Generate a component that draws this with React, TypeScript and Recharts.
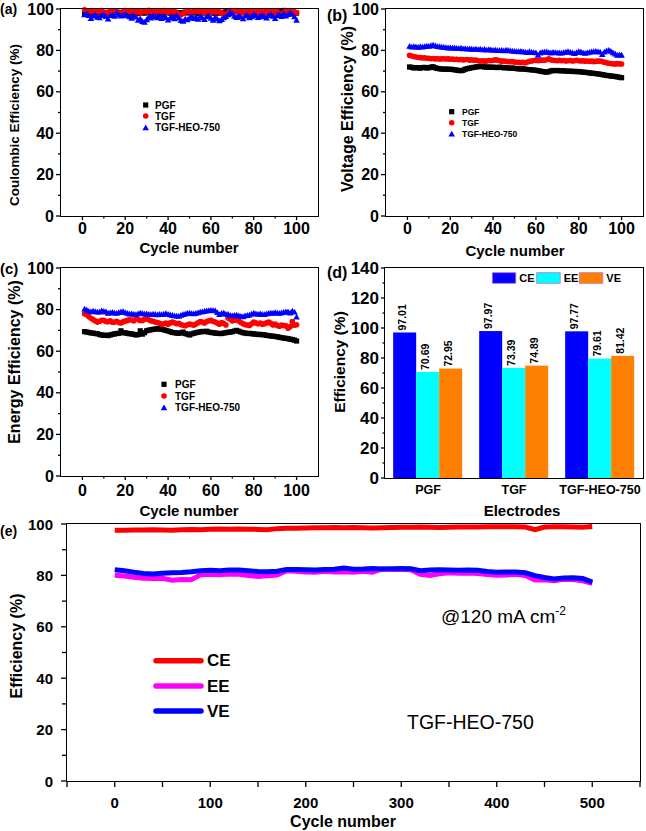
import React from "react";
import { ScatterChart, Scatter, LineChart, Line, BarChart, Bar, XAxis, YAxis } from "recharts";

const FONT = "'Liberation Sans', Arial, Helvetica, sans-serif";

// cycle numbers for panels (a)-(c)
const cycles = Array.from({ length: 100 }, (_, i) => i + 1);

// (a) coulombic efficiency, %
const pgfCE = [
  97.6, 98.2, 98.0, 98.4, 97.9, 98.3, 98.1, 98.5, 97.8, 98.2, 98.0, 98.4, 98.1, 97.9, 98.3, 98.6, 98.0, 98.2, 98.4, 97.9,
  98.1, 98.3, 98.0, 98.5, 98.2, 97.8, 98.1, 98.4, 98.0, 98.3, 98.5, 98.1, 97.9, 98.2, 98.4, 98.0, 98.3, 98.1, 98.6, 98.2,
  98.0, 98.4, 98.1, 97.8, 98.3, 98.0, 98.2, 98.5, 98.1, 98.3, 98.0, 98.4, 98.2, 97.9, 98.3, 98.1, 98.5, 98.0, 98.2, 98.4,
  98.1, 97.9, 98.3, 98.0, 98.4, 98.2, 98.6, 98.9, 99.0, 98.7, 98.9, 99.1, 98.8, 98.6, 98.4, 98.2, 98.5, 98.1, 98.3, 98.0,
  98.4, 98.2, 98.5, 98.1, 98.3, 98.6, 98.2, 98.4, 98.0, 98.5, 98.3, 98.8, 99.1, 99.3, 98.9, 98.6, 98.4, 98.7, 98.2, 98.0,
];
const tgfCE = [
  99.6, 99.0, 98.6, 99.2, 98.8, 98.4, 99.0, 98.7, 99.3, 98.5, 98.2, 97.8, 98.9, 98.6, 99.1, 98.4, 98.0, 97.6, 98.8, 99.2,
  99.0, 98.7, 99.3, 98.9, 98.5, 99.0, 98.2, 98.7, 99.1, 98.6, 99.4, 98.9, 98.3, 98.8, 99.0, 98.5, 98.9, 99.2, 98.7, 98.4,
  98.9, 98.6, 99.0, 98.3, 97.6, 97.2, 97.8, 98.5, 99.0, 98.7, 98.4, 99.1, 98.8, 99.3, 98.6, 98.9, 98.2, 98.8, 99.1, 98.5,
  98.9, 98.4, 99.0, 98.7, 98.2, 97.4, 97.0, 98.3, 99.2, 98.8, 98.6, 99.0, 98.4, 98.9, 98.2, 98.7, 99.1, 98.5, 98.9, 98.3,
  98.8, 98.5, 99.0, 98.6, 98.2, 98.9, 98.4, 99.0, 98.7, 98.3, 98.8, 97.6, 96.5, 98.4, 98.9, 98.6, 97.8, 99.0, 98.7, 98.2,
];
const heoCE = [
  97.2, 97.8, 96.8, 95.4, 96.6, 97.2, 96.0, 95.8, 96.9, 97.3, 96.4, 95.2, 96.8, 97.0, 96.5, 98.3, 97.1, 96.6, 96.9, 97.4,
  96.7, 96.2, 95.5, 96.8, 96.1, 94.6, 95.3, 94.0, 93.6, 94.8, 96.2, 95.6, 96.9, 96.3, 95.8, 96.6, 95.4, 96.7, 95.9, 94.7,
  95.6, 96.4, 95.3, 96.8, 95.7, 94.5, 94.1, 95.2, 94.8, 95.6, 96.3, 95.4, 96.1, 95.0, 96.5, 95.8, 94.9, 96.2, 96.7, 95.5,
  94.6, 96.0, 95.2, 94.3, 94.9, 95.8, 96.4, 97.2, 98.4, 97.6, 96.5, 95.9, 96.8, 96.1, 95.3, 96.6, 97.0, 95.8, 96.3, 97.4,
  96.7, 95.9, 96.4, 97.1, 96.2, 95.6, 96.8, 97.3, 96.5, 95.4, 96.9, 97.2, 96.4, 97.8, 96.6, 97.3, 98.1, 97.5, 96.2, 94.6,
];

// (b) voltage efficiency, %
const pgfVE = [
  72.0, 71.8, 71.5, 71.7, 71.6, 71.4, 71.7, 71.8, 71.5, 71.6, 71.9, 72.1, 71.6, 71.3, 71.1, 71.0, 70.9, 71.0, 70.8, 70.9,
  70.8, 70.6, 70.5, 70.3, 70.2, 70.4, 70.9, 71.2, 71.4, 71.6, 71.8, 72.0, 72.1, 72.3, 72.2, 72.0, 71.9, 72.0, 71.8, 71.9,
  71.8, 71.7, 71.9, 71.8, 71.6, 71.7, 71.5, 71.4, 71.5, 71.3, 71.2, 71.1, 71.0, 71.1, 70.9, 70.8, 70.7, 70.6, 70.5, 70.4,
  70.2, 70.0, 69.8, 69.6, 69.5, 69.7, 70.1, 70.3, 70.2, 70.3, 70.2, 70.1, 70.2, 70.0, 69.9, 70.0, 69.8, 69.9, 69.7, 69.8,
  69.6, 69.5, 69.4, 69.3, 69.1, 69.0, 68.9, 68.8, 68.6, 68.5, 68.3, 68.1, 67.9, 67.8, 67.6, 67.5, 67.4, 67.2, 67.0, 66.8,
];
const tgfVE = [
  77.6, 77.3, 77.0, 76.8, 76.6, 76.5, 76.3, 76.4, 76.2, 76.2, 76.0, 76.1, 75.9, 76.0, 75.8, 75.9, 76.0, 75.8, 75.9, 75.7,
  75.8, 75.6, 75.7, 75.5, 75.6, 75.4, 75.5, 75.6, 75.3, 75.4, 75.2, 75.3, 75.0, 74.9, 75.0, 74.8, 74.9, 75.1, 75.0, 75.2,
  75.4, 75.3, 75.0, 74.8, 74.9, 74.7, 74.6, 74.5, 74.6, 74.4, 74.3, 74.2, 74.1, 74.2, 74.0, 74.4, 74.7, 74.9, 75.1, 75.2,
  75.0, 75.1, 75.3, 75.2, 75.5, 75.9, 75.4, 75.2, 75.1, 75.0, 75.2, 75.0, 75.1, 74.9, 75.0, 75.1, 74.9, 75.0, 75.2, 75.0,
  74.9, 75.0, 74.8, 74.9, 74.7, 74.8, 74.6, 74.7, 74.8, 74.9, 74.6, 74.3, 74.0, 73.8, 73.7, 73.5, 73.4, 73.6, 73.5, 73.4,
];
const heoVE = [
  82.0, 81.6, 81.9, 81.7, 81.5, 81.8, 81.6, 81.9, 82.1, 82.0, 82.3, 82.6, 82.2, 81.9, 81.8, 81.6, 81.5, 81.4, 81.2, 81.3,
  81.1, 81.2, 81.0, 80.9, 81.1, 80.8, 80.9, 80.7, 80.8, 80.6, 80.5, 80.7, 80.4, 80.6, 80.3, 80.5, 80.2, 80.4, 80.3, 80.1,
  80.2, 80.0, 79.9, 80.1, 79.8, 80.2, 80.0, 79.8, 79.7, 79.6, 79.5, 79.4, 79.6, 79.3, 79.2, 79.0, 79.4, 79.1, 79.0, 78.9,
  77.6, 78.8, 79.1, 79.2, 79.3, 79.0, 78.8, 79.1, 79.0, 78.9, 78.8, 78.7, 79.0, 79.2, 79.4, 79.1, 78.9, 78.5, 79.0, 79.4,
  79.2, 78.9, 78.6, 78.9, 79.1, 79.3, 79.4, 79.6, 79.3, 79.2, 78.0, 79.2, 79.8, 80.1, 79.6, 78.9, 78.3, 77.6, 77.9, 77.7,
];

// (c) energy efficiency, %
const pgfEE = [
  69.4, 69.2, 69.0, 68.8, 68.7, 68.5, 68.4, 68.0, 67.8, 67.6, 67.7, 67.5, 67.8, 68.1, 68.3, 68.5, 68.6, 69.8, 68.9, 68.8,
  68.6, 68.4, 68.3, 68.1, 67.8, 68.0, 69.8, 68.2, 68.9, 69.8, 70.1, 70.3, 70.5, 70.6, 70.8, 70.7, 70.5, 70.3, 70.0, 69.7,
  69.4, 69.0, 68.9, 68.7, 68.6, 68.8, 69.2, 68.5, 68.2, 67.8, 68.3, 68.6, 68.9, 69.1, 69.3, 69.5, 69.4, 69.6, 69.2, 69.0,
  68.9, 68.7, 68.6, 68.5, 68.5, 68.7, 68.9, 69.1, 69.2, 69.4, 69.7, 70.0, 69.6, 69.2, 68.9, 68.7, 68.5, 68.6, 68.4, 68.3,
  68.2, 68.0, 68.1, 67.9, 67.9, 67.6, 67.5, 67.3, 67.2, 67.1, 66.9, 66.7, 66.5, 66.3, 66.2, 66.0, 65.8, 65.6, 65.3, 64.9,
];
const tgfEE = [
  78.0, 77.4, 76.6, 75.8, 75.2, 74.6, 74.0, 74.4, 74.9, 74.8, 74.3, 74.2, 74.6, 73.9, 74.0, 74.4, 73.8, 73.6, 74.1, 74.5,
  74.8, 75.1, 75.0, 74.6, 75.5, 75.2, 74.8, 74.8, 75.3, 75.7, 75.1, 74.6, 74.4, 74.0, 73.8, 73.4, 72.9, 73.2, 73.5, 73.0,
  73.6, 74.0, 73.7, 73.2, 73.4, 72.8, 72.5, 72.2, 72.7, 73.0, 72.8, 72.5, 73.1, 73.7, 74.2, 74.0, 73.6, 74.3, 74.6, 74.8,
  74.4, 74.0, 73.5, 73.0, 73.8, 73.3, 72.6, 76.0, 75.4, 74.6, 74.9, 75.2, 74.5, 73.8, 73.2, 72.8, 72.6, 72.4, 73.2, 74.0,
  73.6, 73.2, 73.5, 73.0, 73.2, 73.6, 74.0, 73.4, 72.6, 73.0, 72.4, 72.0, 72.6, 72.3, 72.2, 71.0, 71.8, 74.2, 72.5, 72.7,
];
const heoEE = [
  80.3, 79.8, 79.2, 79.0, 79.3, 79.1, 78.8, 78.8, 79.4, 79.2, 78.9, 78.3, 78.5, 78.7, 78.4, 78.2, 78.6, 78.9, 79.1, 78.6,
  78.2, 77.9, 78.0, 77.8, 77.6, 78.0, 78.4, 78.2, 77.9, 78.0, 77.8, 77.6, 77.9, 77.7, 77.5, 77.8, 77.6, 77.9, 78.1, 77.8,
  77.5, 77.2, 77.0, 76.9, 76.8, 77.3, 77.6, 77.9, 78.2, 78.4, 78.1, 78.0, 78.2, 78.5, 78.8, 79.0, 79.2, 79.4, 79.5, 79.7,
  79.6, 79.4, 78.6, 77.6, 78.2, 78.4, 77.8, 77.8, 77.3, 77.0, 77.2, 77.4, 77.0, 76.8, 76.6, 77.0, 77.2, 77.4, 77.9, 78.3,
  78.0, 77.8, 78.0, 77.7, 77.6, 78.0, 78.2, 78.4, 78.3, 78.6, 78.4, 78.2, 78.5, 78.7, 78.9, 79.0, 78.4, 79.3, 78.8, 76.4,
];

// (d) averages per electrode
const electrodes = ["PGF", "TGF", "TGF-HEO-750"];
const avgCE = [97.01, 97.97, 97.77];
const avgEE = [70.69, 73.39, 79.61];
const avgVE = [72.95, 74.89, 81.42];

// (e) long cycling of TGF-HEO-750
const longCycles = Array.from({ length: 51 }, (_, i) => i * 10);
const longCE = [
  97.6, 97.6, 97.7, 97.7, 97.8, 97.7, 97.6, 97.8, 97.9, 97.8, 98.0, 98.1, 98.0, 98.1, 98.0, 97.9, 97.8, 98.2, 98.3, 98.3,
  98.4, 98.5, 98.5, 98.6, 98.5, 98.6, 98.5, 98.4, 98.5, 98.6, 98.7, 98.7, 98.8, 98.7, 98.6, 98.7, 98.8, 98.8, 98.8, 98.9,
  98.9, 98.9, 98.9, 98.8, 97.8, 98.8, 98.9, 98.9, 98.8, 98.7, 99.0,
];
const longEE = [
  80.1, 79.8, 79.3, 78.9, 78.8, 78.9, 78.1, 78.4, 78.3, 80.2, 80.4, 80.3, 80.5, 80.4, 80.0, 79.6, 79.9, 80.1, 81.8, 81.6,
  81.3, 81.2, 81.6, 81.3, 81.4, 81.2, 81.6, 81.2, 82.5, 82.3, 82.3, 82.2, 80.4, 80.0, 80.6, 81.0, 80.8, 80.9, 80.7, 80.3,
  80.1, 80.2, 80.4, 80.0, 78.2, 78.3, 77.9, 78.5, 78.4, 77.9, 76.9,
];
const longVE = [
  82.2, 81.8, 81.2, 80.7, 80.5, 80.8, 81.0, 81.1, 81.4, 81.8, 82.0, 81.8, 82.1, 82.1, 81.8, 81.5, 81.4, 81.6, 82.3, 82.3,
  82.2, 82.1, 82.3, 82.4, 82.9, 82.4, 82.5, 82.7, 82.5, 82.6, 82.7, 82.6, 81.8, 82.1, 82.2, 82.1, 82.0, 82.1, 82.0, 81.5,
  81.2, 81.3, 81.3, 81.0, 79.9, 79.2, 78.6, 79.0, 79.1, 78.8, 77.4,
];

const cycleTicks = [0, 10, 20, 30, 40, 50, 60, 70, 80, 90, 100];
const pctTicks = [0, 10, 20, 30, 40, 50, 60, 70, 80, 90, 100];
const barTicks = [0, 10, 20, 30, 40, 50, 60, 70, 80, 90, 100, 110, 120, 130, 140];
const longTicks = [-50, 0, 50, 100, 150, 200, 250, 300, 350, 400, 450, 500, 550];

const pts = (ys: number[]) => ys.map((y, i) => ({ x: cycles[i], y }));

type Box = { left: number; top: number; w: number; h: number; x0: number; y0: number; x1: number; y1: number };

const bottomTick = (axisY: number, isMajor: (v: any) => boolean, major: number, minor: number, gap: number, size: number) =>
  (p: any) => {
    const v = p.payload.value;
    const lab = isMajor(v);
    return (
      <g>
        {(lab ? major : minor) > 0 && (
          <line x1={p.x} x2={p.x} y1={axisY} y2={axisY + (lab ? major : minor)} stroke="#000" strokeWidth={1.3} />
        )}
        {lab && (
          <text x={p.x} y={axisY + gap} textAnchor="middle" dominantBaseline="central" fontFamily={FONT} fontWeight="bold" fontSize={size} fill="#000">
            {v}
          </text>
        )}
      </g>
    );
  };

const leftTick = (axisX: number, isMajor: (v: number) => boolean, major: number, minor: number, gap: number, size: number) =>
  (p: any) => {
    const v = p.payload.value;
    const lab = isMajor(v);
    return (
      <g>
        <line x1={axisX - (lab ? major : minor)} x2={axisX} y1={p.y} y2={p.y} stroke="#000" strokeWidth={1.3} />
        {lab && (
          <text x={axisX - gap} y={p.y} textAnchor="end" dominantBaseline="central" fontFamily={FONT} fontWeight="bold" fontSize={size} fill="#000">
            {v}
          </text>
        )}
      </g>
    );
  };

function Frame({ box }: { box: Box }) {
  return (
    <div
      style={{
        position: "absolute",
        left: box.x0 - box.left - 0.75,
        top: box.y0 - box.top - 0.75,
        width: box.x1 - box.x0 + 1.5,
        height: box.y1 - box.y0 + 1.5,
        border: "1.5px solid #000",
        boxSizing: "border-box",
        pointerEvents: "none",
      }}
    />
  );
}

const square = (p: any) => <rect x={p.cx - 2.6} y={p.cy - 2.6} width={5.2} height={5.2} fill="#000" />;
const dot = (p: any) => <circle cx={p.cx} cy={p.cy} r={2.8} fill="#ff0000" />;
const tri = (p: any) => (
  <path d={`M${p.cx},${p.cy - 3.3} L${p.cx + 3.3},${p.cy + 2.5} L${p.cx - 3.3},${p.cy + 2.5} Z`} fill="#0000ff" />
);

function ScatterPanel({ box, pgf, tgf, heo, gap }: { box: Box; pgf: number[]; tgf: number[]; heo: number[]; gap: number }) {
  const axisY = box.y1 - box.top;
  const axisX = box.x0 - box.left;
  return (
    <div style={{ position: "absolute", left: box.left, top: box.top }}>
      <ScatterChart
        width={box.w}
        height={box.h}
        margin={{ top: box.y0 - box.top, right: box.left + box.w - box.x1, left: 0, bottom: 0 }}
      >
        <XAxis
          type="number"
          dataKey="x"
          domain={[-10, 110]}
          ticks={cycleTicks}
          interval={0}
          height={box.top + box.h - box.y1}
          axisLine={false}
          tickLine={false}
          tick={bottomTick(axisY, (v) => v % 20 === 0, 4, 2.5, gap, 16)}
        />
        <YAxis
          type="number"
          dataKey="y"
          domain={[0, 100]}
          ticks={pctTicks}
          interval={0}
          width={axisX}
          axisLine={false}
          tickLine={false}
          tick={leftTick(axisX, (v) => v % 20 === 0, 5, 3, 7, 16)}
        />
        <Scatter data={pts(pgf)} shape={square} isAnimationActive={false} />
        <Scatter data={pts(tgf)} shape={dot} isAnimationActive={false} />
        <Scatter data={pts(heo)} shape={tri} isAnimationActive={false} />
      </ScatterChart>
      <Frame box={box} />
    </div>
  );
}

const boxA: Box = { left: 0, top: 0, w: 330, h: 240, x0: 61, y0: 9, x1: 318, y1: 216 };
const boxB: Box = { left: 320, top: 0, w: 326, h: 240, x0: 386, y0: 9, x1: 643, y1: 216 };
const boxC: Box = { left: 0, top: 258, w: 330, h: 240, x0: 61, y0: 268, x1: 318, y1: 476 };
const boxD: Box = { left: 320, top: 258, w: 326, h: 242, x0: 385, y0: 268, x1: 643, y1: 478 };
const boxE: Box = { left: 0, top: 515, w: 646, h: 296, x0: 67, y0: 524, x1: 640, y1: 781 };

const barRows = electrodes.map((name, i) => ({ name, ce: avgCE[i], ee: avgEE[i], ve: avgVE[i] }));
const longRows = longCycles.map((c, i) => ({ c, ce: longCE[i], ee: longEE[i], ve: longVE[i] }));

// bar with its value written vertically (bottom to top) just above it
const barShape = (key: string, color: string) => (p: any) => {
  const x = Number(p.x);
  const y = Number(p.y);
  const w = Number(p.width);
  const h = Number(p.height);
  const tx = x + w / 2 + 1.5;
  const ty = y - 2;
  return (
    <g>
      <rect x={x} y={y} width={w} height={h} fill={color} />
      <g transform={`translate(${tx} ${ty}) rotate(-90)`}>
        <text x={0} y={0} textAnchor="start" fontFamily={FONT} fontWeight="bold" fontSize={10.5} fill="#000">
          {Number(p.payload[key]).toFixed(2)}
        </text>
      </g>
    </g>
  );
};

function BarPanel() {
  const b = boxD;
  const axisY = b.y1 - b.top;
  const axisX = b.x0 - b.left;
  return (
    <div style={{ position: "absolute", left: b.left, top: b.top }}>
      <BarChart
        width={b.w}
        height={b.h}
        data={barRows}
        barCategoryGap="9.5%"
        barGap={0}
        margin={{ top: b.y0 - b.top, right: b.left + b.w - b.x1, left: 0, bottom: 0 }}
      >
        <XAxis
          dataKey="name"
          height={b.top + b.h - b.y1}
          axisLine={false}
          tickLine={false}
          interval={0}
          tick={bottomTick(axisY, () => true, 0, 0, 12, 12.5)}
        />
        <YAxis
          type="number"
          domain={[0, 140]}
          ticks={barTicks}
          interval={0}
          width={axisX}
          axisLine={false}
          tickLine={false}
          tick={leftTick(axisX, (v) => v % 20 === 0, 4, 2.5, 6, 17)}
        />
        <Bar dataKey="ce" fill="#0000ff" shape={barShape("ce", "#0000ff")} isAnimationActive={false} />
        <Bar dataKey="ee" fill="#00ffff" shape={barShape("ee", "#00ffff")} isAnimationActive={false} />
        <Bar dataKey="ve" fill="#ff8000" shape={barShape("ve", "#ff8000")} isAnimationActive={false} />
      </BarChart>
      <Frame box={b} />
    </div>
  );
}

function LongPanel() {
  const b = boxE;
  const axisY = b.y1 - b.top;
  const axisX = b.x0 - b.left;
  return (
    <div style={{ position: "absolute", left: b.left, top: b.top }}>
      <LineChart
        width={b.w}
        height={b.h}
        data={longRows}
        margin={{ top: b.y0 - b.top, right: b.left + b.w - b.x1, left: 0, bottom: 0 }}
      >
        <XAxis
          type="number"
          dataKey="c"
          domain={[-50, 550]}
          ticks={longTicks}
          interval={0}
          height={b.top + b.h - b.y1}
          axisLine={false}
          tickLine={false}
          tick={bottomTick(axisY, (v) => v >= 0 && v <= 500 && v % 100 === 0, 6, 6, 21, 15)}
        />
        <YAxis
          type="number"
          domain={[0, 100]}
          ticks={pctTicks}
          interval={0}
          width={axisX}
          axisLine={false}
          tickLine={false}
          tick={leftTick(axisX, (v) => v % 20 === 0, 6, 5, 14, 15)}
        />
        <Line type="linear" dataKey="ee" stroke="#ff00ff" strokeWidth={5} dot={false} isAnimationActive={false} />
        <Line type="linear" dataKey="ve" stroke="#0000ff" strokeWidth={5} dot={false} isAnimationActive={false} />
        <Line type="linear" dataKey="ce" stroke="#ff0000" strokeWidth={5} dot={false} isAnimationActive={false} />
      </LineChart>
      <Frame box={b} />
    </div>
  );
}

const T = (props: any) => (
  <text fontFamily={FONT} fontWeight="bold" fill="#000" dominantBaseline="central" {...props} />
);

function MarkerLegend({ mx, tx, rows, size }: { mx: number; tx: number; rows: number[]; size: number }) {
  const names = ["PGF", "TGF", "TGF-HEO-750"];
  return (
    <g>
      {square({ cx: mx, cy: rows[0] })}
      {dot({ cx: mx, cy: rows[1] })}
      {tri({ cx: mx, cy: rows[2] })}
      {names.map((n, i) => (
        <T key={n} x={tx} y={rows[i]} fontSize={size}>
          {n}
        </T>
      ))}
    </g>
  );
}

function Overlay() {
  const vt = (x: number, y: number, s: number, label: string) => (
    <T x={x} y={y} fontSize={s} textAnchor="middle" transform={`rotate(-90 ${x} ${y})`}>
      {label}
    </T>
  );
  return (
    <svg width={646} height={831} style={{ position: "absolute", left: 0, top: 0, pointerEvents: "none" }}>
      {/* panel letters */}
      <T x={0} y={9} fontSize={14}>(a)</T>
      <T x={327} y={15} fontSize={16}>(b)</T>
      <T x={0} y={268} fontSize={15}>(c)</T>
      <T x={327} y={272} fontSize={16}>(d)</T>
      <T x={0} y={531} fontSize={14}>(e)</T>

      {/* axis titles */}
      {vt(14, 125, 13.5, "Coulombic Efficiency (%)")}
      {vt(347, 109, 16, "Voltage Efficiency (%)")}
      {vt(14.5, 362, 16, "Energy Efficiency (%)")}
      {vt(339, 362, 15.5, "Efficiency (%)")}
      {vt(16.5, 646, 16, "Efficiency (%)")}
      <T x={189} y={247} fontSize={15} textAnchor="middle">Cycle number</T>
      <T x={515} y={250} fontSize={15} textAnchor="middle">Cycle number</T>
      <T x={189} y={510} fontSize={15} textAnchor="middle">Cycle number</T>
      <T x={522} y={510.5} fontSize={15} textAnchor="middle">Electrodes</T>
      <T x={343} y={821.5} fontSize={16} textAnchor="middle">Cycle number</T>

      {/* legends (a)-(c) */}
      <MarkerLegend mx={145.7} tx={155} rows={[105, 116, 127.7]} size={10} />
      <MarkerLegend mx={451.7} tx={462} rows={[111.7, 122.7, 134]} size={8.5} />
      <MarkerLegend mx={164} tx={175} rows={[384.3, 396, 407.7]} size={10} />

      {/* legend (d) */}
      {[
        { x: 492.3, c: "#0000ff", n: "CE" },
        { x: 536.7, c: "#00ffff", n: "EE" },
        { x: 579.3, c: "#ff8000", n: "VE" },
      ].map((s) => (
        <g key={s.n}>
          <rect x={s.x} y={272.7} width={23.5} height={10.6} fill={s.c} stroke="#c070d0" strokeWidth={0.8} />
          <T x={s.x + 27} y={278} fontSize={11}>{s.n}</T>
        </g>
      ))}

      {/* legend (e) */}
      {[
        { y: 660.7, c: "#ff0000", n: "CE" },
        { y: 686, c: "#ff00ff", n: "EE" },
        { y: 711, c: "#0000ff", n: "VE" },
      ].map((s) => (
        <g key={s.n}>
          <line x1={156} x2={201} y1={s.y} y2={s.y} stroke={s.c} strokeWidth={5.5} strokeLinecap="round" />
          <T x={207} y={s.y} fontSize={17}>{s.n}</T>
        </g>
      ))}

      <text x={441} y={623} fontFamily={FONT} fontSize={19} fill="#000">
        @120 mA cm<tspan dy={-8} fontSize={12}>-2</tspan>
      </text>
      <text x={407} y={729} fontFamily={FONT} fontSize={19.5} fill="#000">
        TGF-HEO-750
      </text>
    </svg>
  );
}

export default function App() {
  return (
    <div style={{ position: "absolute", left: 0, top: 0, width: 646, height: 831, background: "#fff", fontFamily: FONT }}>
      <ScatterPanel box={boxA} pgf={pgfCE} tgf={tgfCE} heo={heoCE} gap={12} />
      <ScatterPanel box={boxB} pgf={pgfVE} tgf={tgfVE} heo={heoVE} gap={12} />
      <ScatterPanel box={boxC} pgf={pgfEE} tgf={tgfEE} heo={heoEE} gap={14} />
      <BarPanel />
      <LongPanel />
      <Overlay />
    </div>
  );
}
